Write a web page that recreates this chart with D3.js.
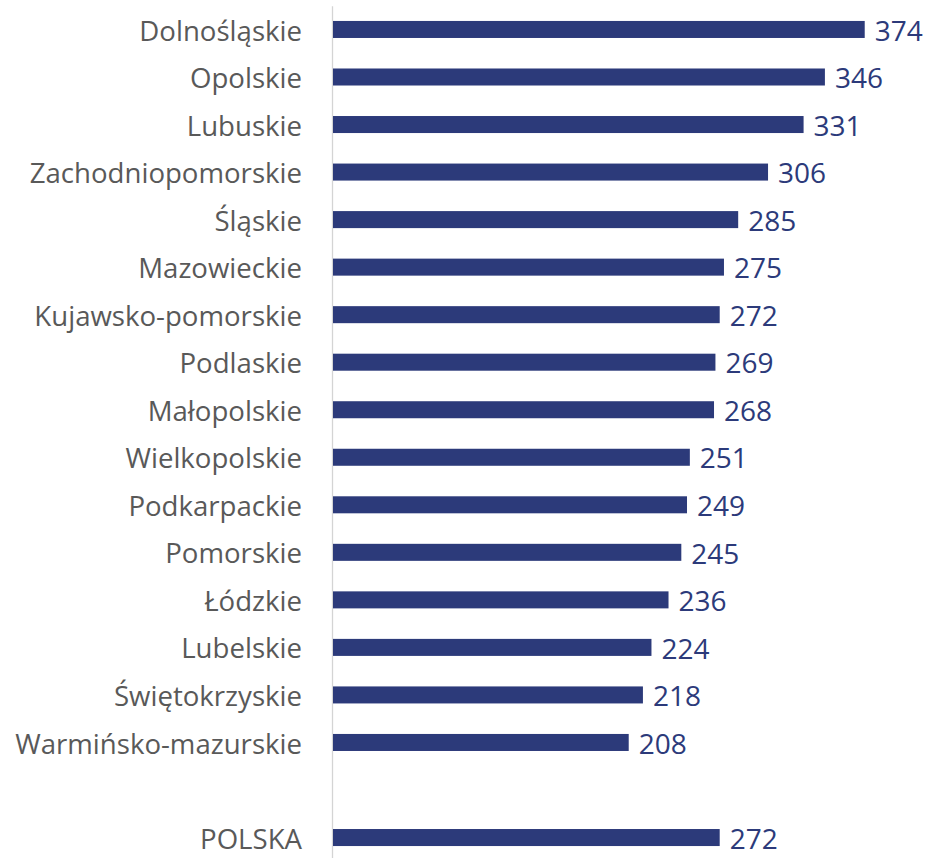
<!DOCTYPE html>
<html>
<head>
<meta charset="utf-8">
<script src="https://cdn.jsdelivr.net/npm/d3@7"></script>
<style>
  body { margin: 0; background: #fff; }
  svg { display: block; }
</style>
</head>
<body>
<svg id="chart"></svg>
<script>
const regions = ["Dolnośląskie", "Opolskie", "Lubuskie", "Zachodniopomorskie", "Śląskie", "Mazowieckie",
    "Kujawsko-pomorskie", "Podlaskie", "Małopolskie", "Wielkopolskie", "Podkarpackie", "Pomorskie",
    "Łódzkie", "Lubelskie", "Świętokrzyskie", "Warmińsko-mazurskie"];
const regionValues = [374, 346, 331, 306, 285, 275, 272, 269, 268, 251, 249, 245, 236, 224, 218, 208];
const totalLabel = "POLSKA";
const totalValue = 272;

const width = 927, height = 858;
const navy = "#2c3a7a";
const font = "'Open Sans', sans-serif";

// blank slot between the regions and the country total
const data = regions.map((r, i) => ({ key: r, label: r, value: regionValues[i] }));
data.push({ key: "_gap", label: "", value: null });
data.push({ key: totalLabel, label: totalLabel, value: totalValue });

const svg = d3.select("#chart")
    .attr("width", width)
    .attr("height", height)
    .attr("font-family", font);

const x = d3.scaleLinear()
    .domain([0, 400])
    .range([333, 333 + 400 * 1.4217]);

const y = d3.scaleBand()
    .domain(data.map(d => d.key))
    .range([5.7, 861.3])
    .paddingInner(0.642)
    .paddingOuter(0.321);

const yAxis = d3.axisLeft(y)
    .tickSize(0)
    .tickSizeOuter(0)
    .tickPadding(30)
    .tickFormat(k => (data.find(d => d.key === k) || {}).label);

const ax = svg.append("g")
    .attr("transform", "translate(332,0)")
    .call(yAxis)
    .attr("font-family", font);

ax.select(".domain")
    .attr("stroke", "#d4d4d4")
    .attr("stroke-width", 1.3);

ax.selectAll(".tick text")
    .attr("fill", "#595959")
    .attr("font-size", 27.6)
    .attr("dy", "0.4em");

const rows = data.filter(d => d.value != null);

svg.append("g")
  .selectAll("rect")
  .data(rows)
  .join("rect")
    .attr("x", x(0))
    .attr("y", d => y(d.key))
    .attr("width", d => x(d.value) - x(0))
    .attr("height", y.bandwidth())
    .attr("fill", navy);

svg.append("g")
  .selectAll("text")
  .data(rows)
  .join("text")
    .attr("x", d => x(d.value) + 10)
    .attr("y", d => y(d.key) + y.bandwidth() / 2)
    .attr("dy", "0.4em")
    .attr("fill", navy)
    .attr("font-size", 28)
    .text(d => d.value);
</script>
</body>
</html>
